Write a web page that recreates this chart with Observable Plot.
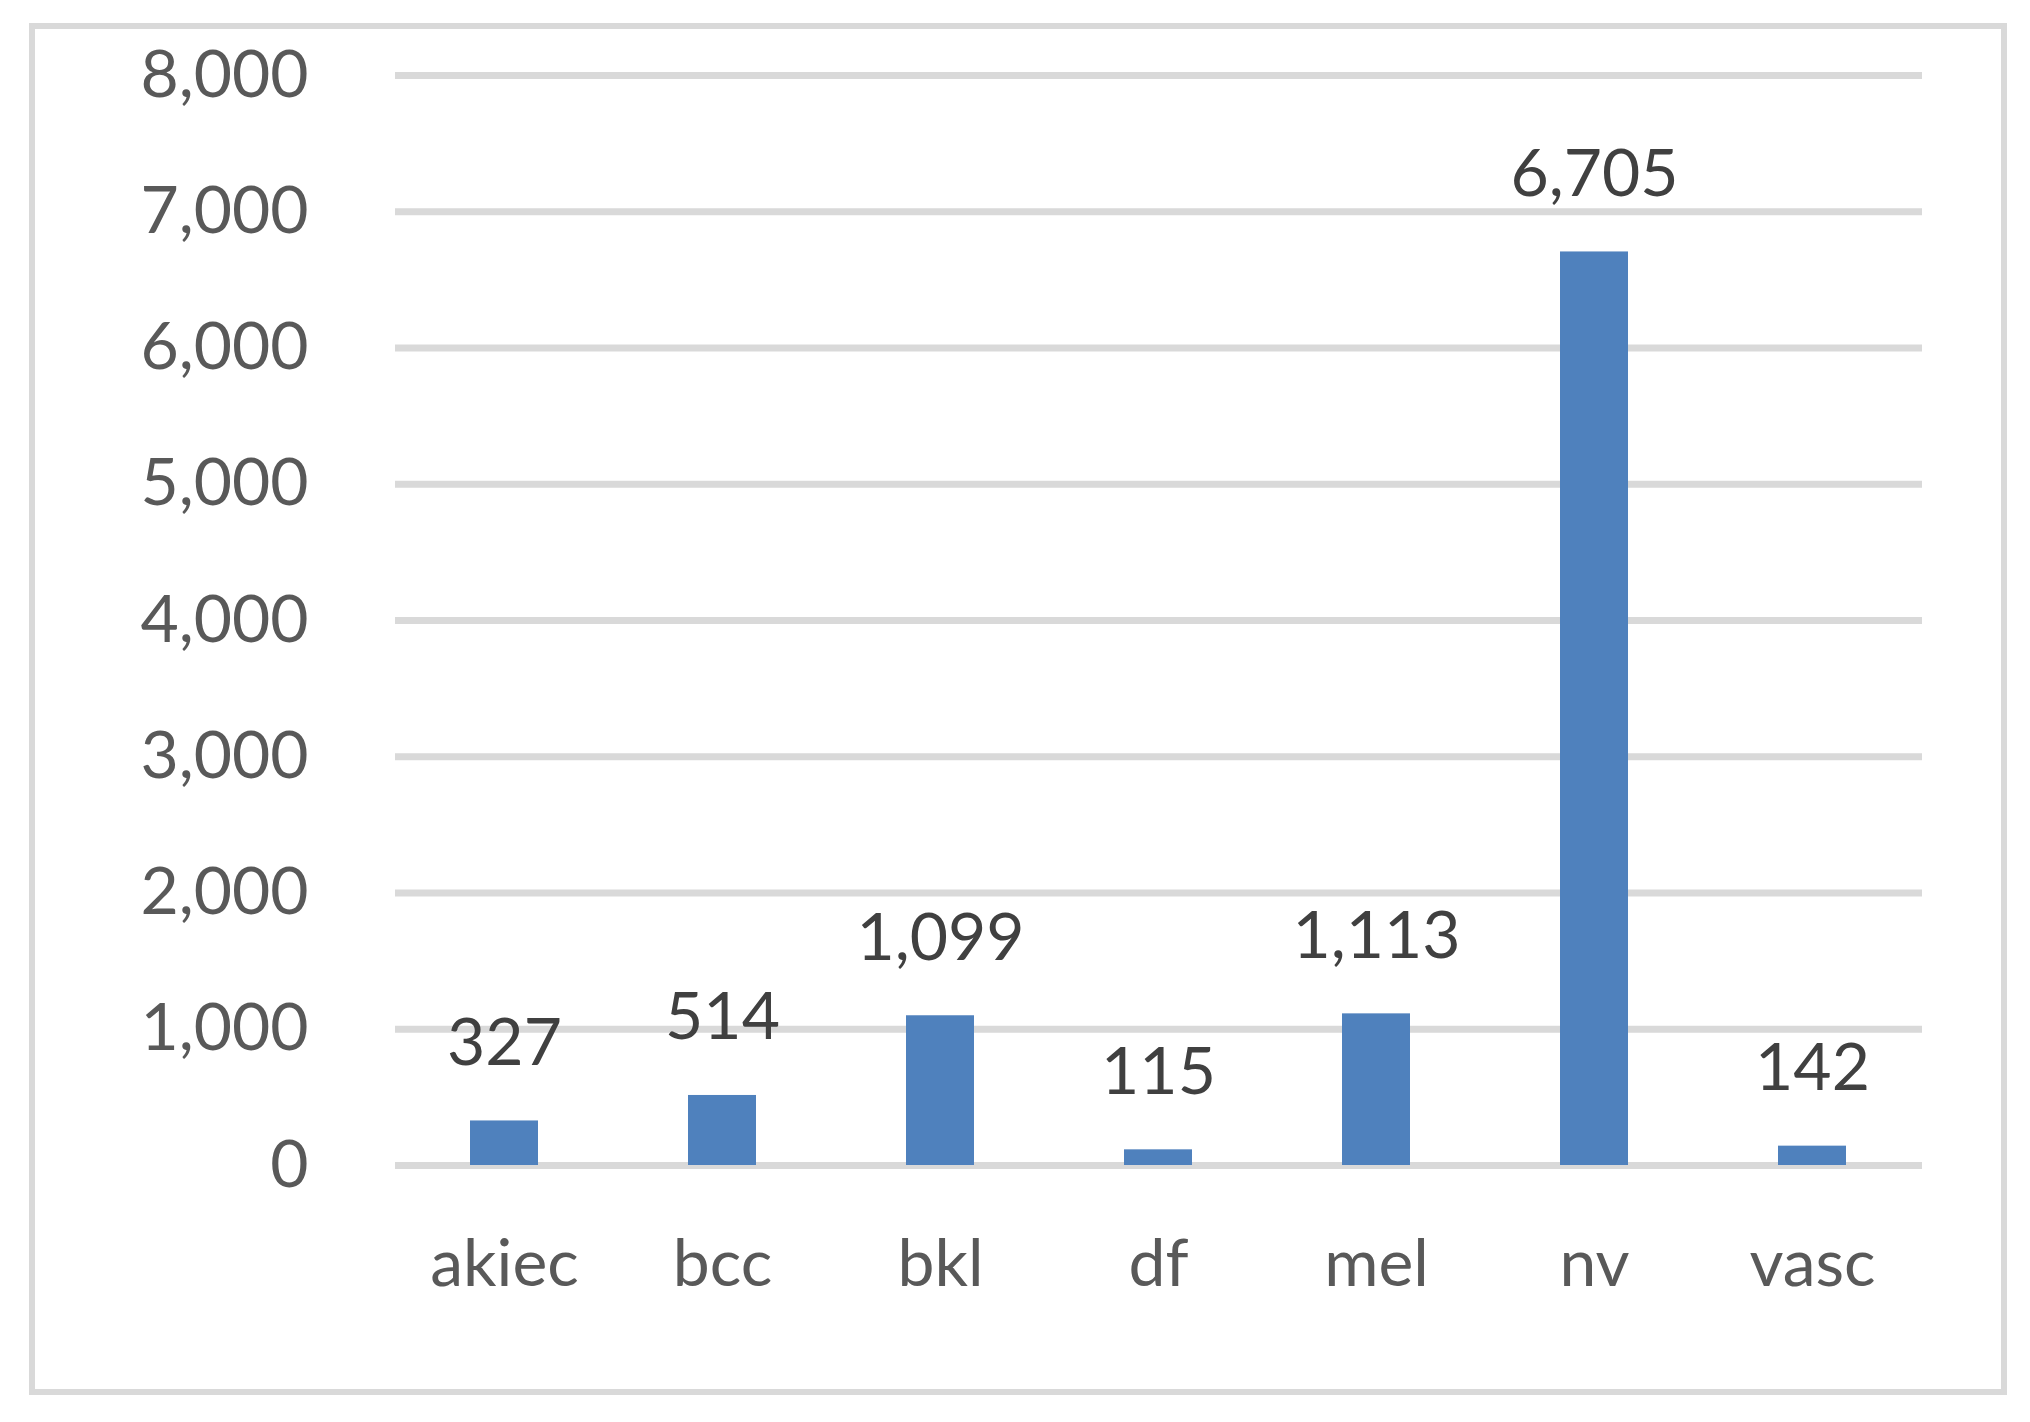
<!DOCTYPE html>
<html>
<head>
<meta charset="utf-8">
<script src="https://cdn.jsdelivr.net/npm/d3@7"></script>
<script src="https://cdn.jsdelivr.net/npm/@observablehq/plot@0.6"></script>
<style>
  html, body { margin: 0; padding: 0; background: #fff; }
  #wrap { position: relative; width: 2030px; height: 1422px; overflow: hidden; }
  #border { position: absolute; left: 29px; top: 23px; width: 1966px; height: 1360px; border: 6px solid #d9d9d9; }
  #chart { position: absolute; left: 0; top: 0; }
</style>
</head>
<body>
<div id="wrap"><div id="border"></div><div id="chart"></div></div>
<script>
const categories = ["akiec", "bcc", "bkl", "df", "mel", "nv", "vasc"];
const counts = [327, 514, 1099, 115, 1113, 6705, 142];
const yTicks = [0, 1000, 2000, 3000, 4000, 5000, 6000, 7000, 8000];

const data = categories.map((c, i) => ({category: c, count: counts[i]}));
const fmt = d3.format(",");

const chart = Plot.plot({
  width: 2030,
  height: 1422,
  marginLeft: 395,
  marginRight: 108,
  marginTop: 75,
  marginBottom: 257,
  style: {fontFamily: "Lato, sans-serif", background: "transparent"},
  x: {domain: categories, paddingInner: 0.687, paddingOuter: 0.3435, label: null},
  y: {domain: [0, 8000], label: null},
  marks: [
    Plot.gridY(yTicks, {stroke: "#d9d9d9", strokeWidth: 7, strokeOpacity: 1}),
    Plot.axisY(yTicks, {tickSize: 0, tickPadding: 87, tickFormat: fmt, fontSize: 66, fill: "#595959", label: null}),
    Plot.axisX({tickSize: 0, tickPadding: 74, fontSize: 66, fill: "#595959", label: null}),
    Plot.barY(data, {x: "category", y: "count", fill: "#4f81bd"}),
    Plot.text(data, {x: "category", y: "count", text: d => fmt(d.count), lineAnchor: "bottom", dy: -56, fontSize: 66, fill: "#404040"})
  ]
});
document.getElementById("chart").appendChild(chart);
</script>
</body>
</html>
